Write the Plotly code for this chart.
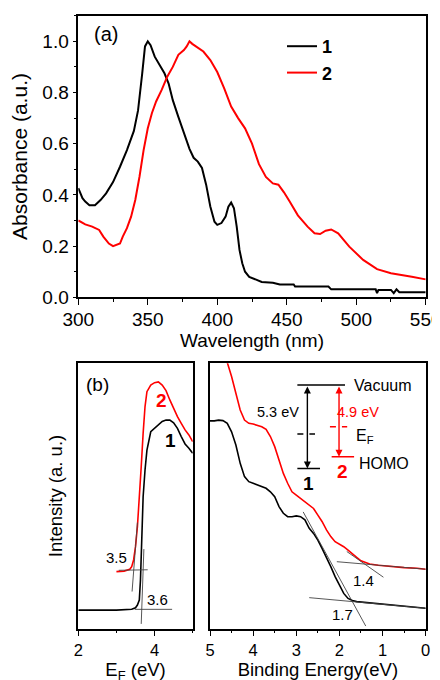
import plotly.graph_objects as go

# ---------------- Panel (a): absorbance ----------------
wl_1 = [300, 303, 305, 308, 312, 316, 320, 325, 330, 335, 340, 343, 346, 348, 350, 352, 355, 358,
        362, 365, 368, 372, 376, 380, 383, 386, 389, 392, 395, 398, 400, 403, 406, 408, 410, 412,
        414, 416, 418, 420, 423, 427, 432, 440, 445, 455, 456, 480, 482, 510, 514, 515, 516, 525,
        527, 529, 531, 550]
abs_1 = [0.426, 0.387, 0.374, 0.36, 0.36, 0.38, 0.406, 0.45, 0.51, 0.575, 0.65, 0.73, 0.875, 0.98,
         1.0, 0.985, 0.94, 0.91, 0.875, 0.835, 0.77, 0.705, 0.64, 0.58, 0.545, 0.53, 0.505, 0.44,
         0.355, 0.295, 0.283, 0.29, 0.315, 0.354, 0.37, 0.348, 0.276, 0.185, 0.133, 0.10, 0.08,
         0.07, 0.06, 0.057, 0.05, 0.05, 0.042, 0.042, 0.031, 0.031, 0.031, 0.016, 0.029, 0.029,
         0.016, 0.031, 0.02, 0.02]

wl_2 = [300, 305, 310, 315, 318, 322, 325, 328, 330, 332, 335, 338, 341, 344, 347, 350, 353, 356,
        360, 364, 368, 372, 376, 378, 380, 382, 385, 390, 395, 400, 405, 410, 415, 420, 425, 430,
        435, 440, 444, 448, 452, 458, 465, 470, 474, 478, 482, 487, 495, 505, 515, 525, 540, 550]
abs_2 = [0.30, 0.285, 0.276, 0.263, 0.237, 0.21, 0.20, 0.207, 0.21, 0.237, 0.27, 0.315, 0.38, 0.47,
         0.575, 0.66, 0.72, 0.765, 0.81, 0.862, 0.90, 0.947, 0.966, 0.98, 1.0, 0.99, 0.98, 0.96,
         0.927, 0.88, 0.816, 0.745, 0.70, 0.66, 0.60, 0.52, 0.47, 0.445, 0.44, 0.41, 0.375, 0.32,
         0.276, 0.25, 0.247, 0.26, 0.265, 0.25, 0.198, 0.146, 0.11, 0.094, 0.08, 0.07]

# ---------------- Panel (b) left: secondary-electron cutoff ----------------
ef_1 = [2.0, 3.0, 3.4, 3.5, 3.55, 3.6, 3.63, 3.66, 3.7, 3.75, 3.8, 3.9, 4.0, 4.1, 4.2, 4.3, 4.4,
        4.5, 4.6, 4.7, 4.8, 4.9, 5.0]
int_l1 = [0.070, 0.070, 0.073, 0.079, 0.089, 0.108, 0.183, 0.334, 0.497, 0.598, 0.673, 0.742,
          0.755, 0.771, 0.781, 0.786, 0.786, 0.776, 0.755, 0.724, 0.696, 0.680, 0.661]
ef_2 = [3.0, 3.2, 3.35, 3.4, 3.45, 3.5, 3.55, 3.6, 3.65, 3.7, 3.75, 3.8, 3.9, 4.0, 4.1, 4.2, 4.3,
        4.4, 4.5, 4.6, 4.7, 4.8, 4.9, 5.0]
int_l2 = [0.215, 0.217, 0.224, 0.234, 0.259, 0.309, 0.384, 0.485, 0.61, 0.736, 0.837, 0.893,
          0.918, 0.927, 0.930, 0.918, 0.897, 0.862, 0.830, 0.799, 0.774, 0.749, 0.730, 0.705]

# tangent (onset) lines, left panel
tan_l_x = [[3.06, 3.82], [3.41, 3.55], [3.48, 4.46], [3.65, 3.72]]
tan_l_y = [[0.220, 0.222], [0.140, 0.400], [0.073, 0.073], [0.018, 0.300]]

# ---------------- Panel (b) right: valence band ----------------
be_1 = [5.0, 4.9, 4.8, 4.7, 4.6, 4.5, 4.4, 4.3, 4.2, 4.1, 4.0, 3.9, 3.8, 3.7, 3.6, 3.5, 3.4, 3.3,
        3.2, 3.1, 3.0, 2.9, 2.8, 2.7, 2.6, 2.5, 2.4, 2.3, 2.2, 2.1, 2.0, 1.9, 1.8, 1.7, 1.6, 1.4,
        1.2, 1.0, 0.8, 0.6, 0.4, 0.2, 0.0]
int_r1 = [0.783, 0.783, 0.786, 0.784, 0.774, 0.742, 0.692, 0.623, 0.573, 0.554, 0.548, 0.542,
          0.535, 0.529, 0.516, 0.497, 0.460, 0.435, 0.422, 0.422, 0.425, 0.422, 0.410, 0.378,
          0.359, 0.334, 0.302, 0.271, 0.234, 0.196, 0.165, 0.133, 0.114, 0.106, 0.102, 0.099,
          0.095, 0.093, 0.089, 0.085, 0.083, 0.079, 0.077]
be_2 = [4.65, 4.59, 4.54, 4.5, 4.4, 4.3, 4.2, 4.1, 4.0, 3.9, 3.8, 3.7, 3.6, 3.5, 3.4, 3.3, 3.2, 3.1,
        3.0, 2.9, 2.8, 2.7, 2.6, 2.5, 2.4, 2.3, 2.2, 2.1, 2.0, 1.9, 1.8, 1.7, 1.6, 1.5, 1.4, 1.3,
        1.1, 0.8, 0.5, 0.2, 0.0]
int_r2 = [1.03, 1.0, 0.975, 0.950, 0.887, 0.824, 0.786, 0.774, 0.771, 0.767, 0.761, 0.751, 0.724,
          0.686, 0.636, 0.585, 0.548, 0.516, 0.503, 0.491, 0.479, 0.466, 0.453, 0.428, 0.403,
          0.372, 0.347, 0.328, 0.319, 0.309, 0.296, 0.284, 0.269, 0.256, 0.249, 0.244, 0.239,
          0.234, 0.230, 0.228, 0.224]

tan_r_x = [[2.06, 0.0], [1.83, 0.98], [2.70, 0.0], [2.84, 1.39]]
tan_r_y = [[0.2525, 0.224], [0.291, 0.194], [0.117, 0.077], [0.440, 0.010]]

# energy diagram levels (binding-energy / intensity coordinates)
vac_x, vac_y = [2.975, 1.87], 0.918
homo1_x, homo1_y = [2.975, 2.45], 0.604
homo2_x, homo2_y = [2.18, 1.66], 0.648
ef1_x, ef1_y = [2.975, 2.566], 0.734
ef2_x, ef2_y = [2.22, 1.82], 0.761
arrow1_x, arrow2_x = 2.743, 2.009

FONT = "Liberation Sans, Arial, sans-serif"
BLACK = "#000000"
RED = "#ff0000"
TAN = "#444444"

W, H, OFF = 440, 680, 8  # page body has an 8px margin


def px_x(p):
    return (p - OFF) / W


def px_y(p):
    return 1 - (p - OFF) / H


fig = go.Figure()

fig.add_trace(go.Scatter(x=wl_1, y=abs_1, mode="lines", name="<b>1</b>",
                         line=dict(color=BLACK, width=2), xaxis="x", yaxis="y"))
fig.add_trace(go.Scatter(x=wl_2, y=abs_2, mode="lines", name="<b>2</b>",
                         line=dict(color=RED, width=2), xaxis="x", yaxis="y"))

fig.add_trace(go.Scatter(x=ef_1, y=int_l1, mode="lines", showlegend=False,
                         line=dict(color=BLACK, width=1.6), xaxis="x2", yaxis="y2"))
fig.add_trace(go.Scatter(x=ef_2, y=int_l2, mode="lines", showlegend=False,
                         line=dict(color=RED, width=1.6), xaxis="x2", yaxis="y2"))
for tx, ty in zip(tan_l_x, tan_l_y):
    fig.add_trace(go.Scatter(x=tx, y=ty, mode="lines", showlegend=False,
                             line=dict(color=TAN, width=0.9), xaxis="x2", yaxis="y2"))

fig.add_trace(go.Scatter(x=be_1, y=int_r1, mode="lines", showlegend=False,
                         line=dict(color=BLACK, width=1.6), xaxis="x3", yaxis="y3"))
fig.add_trace(go.Scatter(x=be_2, y=int_r2, mode="lines", showlegend=False,
                         line=dict(color=RED, width=1.6), xaxis="x3", yaxis="y3"))
for tx, ty in zip(tan_r_x, tan_r_y):
    fig.add_trace(go.Scatter(x=tx, y=ty, mode="lines", showlegend=False,
                             line=dict(color=TAN, width=0.9), xaxis="x3", yaxis="y3"))

axis_common = dict(showline=True, linecolor=BLACK, linewidth=1.5, mirror=True,
                   showgrid=False, zeroline=False, ticks="outside", tickcolor=BLACK,
                   tickwidth=1.3, automargin=False)

dom_a_x = [px_x(78.3), px_x(425.7)]
dom_a_y = [px_y(297.3), px_y(15.7)]
dom_b_y = [px_y(628.7), px_y(363.3)]
dom_bl_x = [px_x(78.3), px_x(192.7)]
dom_br_x = [px_x(210), px_x(425.7)]

fig.update_layout(
    width=W, height=H,
    margin=dict(l=0, r=0, t=0, b=0, autoexpand=False),
    paper_bgcolor="white", plot_bgcolor="white",
    font=dict(family=FONT, color=BLACK, size=18),
    xaxis=dict(**axis_common, domain=dom_a_x, range=[300, 550], dtick=50, ticklen=6,
               minor=dict(dtick=25, ticklen=3, ticks="outside", tickcolor=BLACK),
               tickfont=dict(size=19), anchor="y", ticklabelstandoff=-2,
               title=dict(text="Wavelength (nm)", font=dict(size=19), standoff=0)),
    yaxis=dict(**axis_common, domain=dom_a_y, range=[0, 1.1], dtick=0.2, ticklen=4,
               tickformat=".1f", minor=dict(dtick=0.1, ticklen=2.5, ticks="outside", tickcolor=BLACK),
               tickfont=dict(size=19), anchor="x",
               title=dict(text="Absorbance (a.u.)", font=dict(size=21), standoff=11)),
    xaxis2=dict(**axis_common, domain=dom_bl_x, range=[2, 5], dtick=2, tick0=2, ticklen=6,
                minor=dict(dtick=1, ticklen=3, ticks="outside", tickcolor=BLACK),
                tickfont=dict(size=16.5), anchor="y2",
                title=dict(text="E<sub>F</sub> (eV)", font=dict(size=18.5), standoff=0)),
    yaxis2=dict(showline=True, linecolor=BLACK, linewidth=1.5, mirror=True, showgrid=False,
                zeroline=False, showticklabels=False, ticks="", domain=dom_b_y,
                range=[0, 1], anchor="x2", automargin=False,
                title=dict(text="Intensity (a. u.)", font=dict(size=18.5), standoff=9)),
    xaxis3=dict(**axis_common, domain=dom_br_x, range=[5, 0], dtick=1, ticklen=6,
                minor=dict(dtick=0.5, ticklen=3, ticks="outside", tickcolor=BLACK),
                tickfont=dict(size=16.5), anchor="y3",
                title=dict(text="Binding Energy(eV)", font=dict(size=18.5), standoff=0)),
    yaxis3=dict(showline=True, linecolor=BLACK, linewidth=1.5, mirror=True, showgrid=False,
                zeroline=False, showticklabels=False, ticks="", domain=dom_b_y,
                range=[0, 1], anchor="x3", automargin=False),
    legend=dict(x=px_x(282), y=px_y(28), xanchor="left", yanchor="top", bgcolor="rgba(0,0,0,0)",
                font=dict(size=18, color=BLACK), itemwidth=30, tracegroupgap=0),
    showlegend=True,
)

shapes = []


def hline(xs, y, color, dash="solid", width=1.5):
    shapes.append(dict(type="line", xref="x3", yref="y3", x0=xs[0], x1=xs[1], y0=y, y1=y,
                       line=dict(color=color, width=width, dash=dash)))


hline(vac_x, vac_y, BLACK)
hline(homo1_x, homo1_y, BLACK)
hline(homo2_x, homo2_y, RED)
hline(ef1_x, ef1_y, BLACK, dash="6px,6px")
hline(ef2_x, ef2_y, RED, dash="6px,6px")
fig.update_layout(shapes=shapes)

ann = []


def text(x, y, s, xref, yref, size=17, color=BLACK, bold=False):
    ann.append(dict(x=x, y=y, xref=xref, yref=yref, text=("<b>%s</b>" % s) if bold else s,
                    showarrow=False, font=dict(size=size, color=color, family=FONT)))


def arrow(x, y_top, y_bot, color):
    ann.append(dict(x=x, y=y_bot, ax=x, ay=y_top, xref="x3", yref="y3", axref="x3", ayref="y3",
                    text="", showarrow=True, arrowhead=2, startarrowhead=2, arrowside="end+start",
                    arrowsize=1, arrowwidth=1.4, arrowcolor=color))


text(320, 1.03, "(a)", "x", "y", size=20)
text(2.5, 0.92, "(b)", "x2", "y2", size=19)
text(3.0, 0.27, "3.5", "x2", "y2", size=15)
text(4.08, 0.11, "3.6", "x2", "y2", size=15)
text(4.17, 0.86, "2", "x2", "y2", size=19, color=RED, bold=True)
text(4.42, 0.71, "1", "x2", "y2", size=19, color=BLACK, bold=True)
text(1.45, 0.181, "1.4", "x3", "y3", size=15)
text(1.92, 0.055, "1.7", "x3", "y3", size=15)
arrow(arrow1_x, vac_y, homo1_y, BLACK)
arrow(arrow2_x, vac_y, homo2_y, RED)
text(3.42, 0.818, "5.3 eV", "x3", "y3", size=14.5)
text(1.56, 0.818, "4.9 eV", "x3", "y3", size=14.5, color=RED)
text(1.41, 0.724, "E<sub>F</sub>", "x3", "y3", size=16)
text(0.97, 0.623, "HOMO", "x3", "y3", size=16)
text(0.98, 0.915, "Vacuum", "x3", "y3", size=16)
text(2.71, 0.548, "1", "x3", "y3", size=19, bold=True)
text(1.92, 0.592, "2", "x3", "y3", size=19, color=RED, bold=True)
fig.update_layout(annotations=ann)

fig.write_html("out.html")
